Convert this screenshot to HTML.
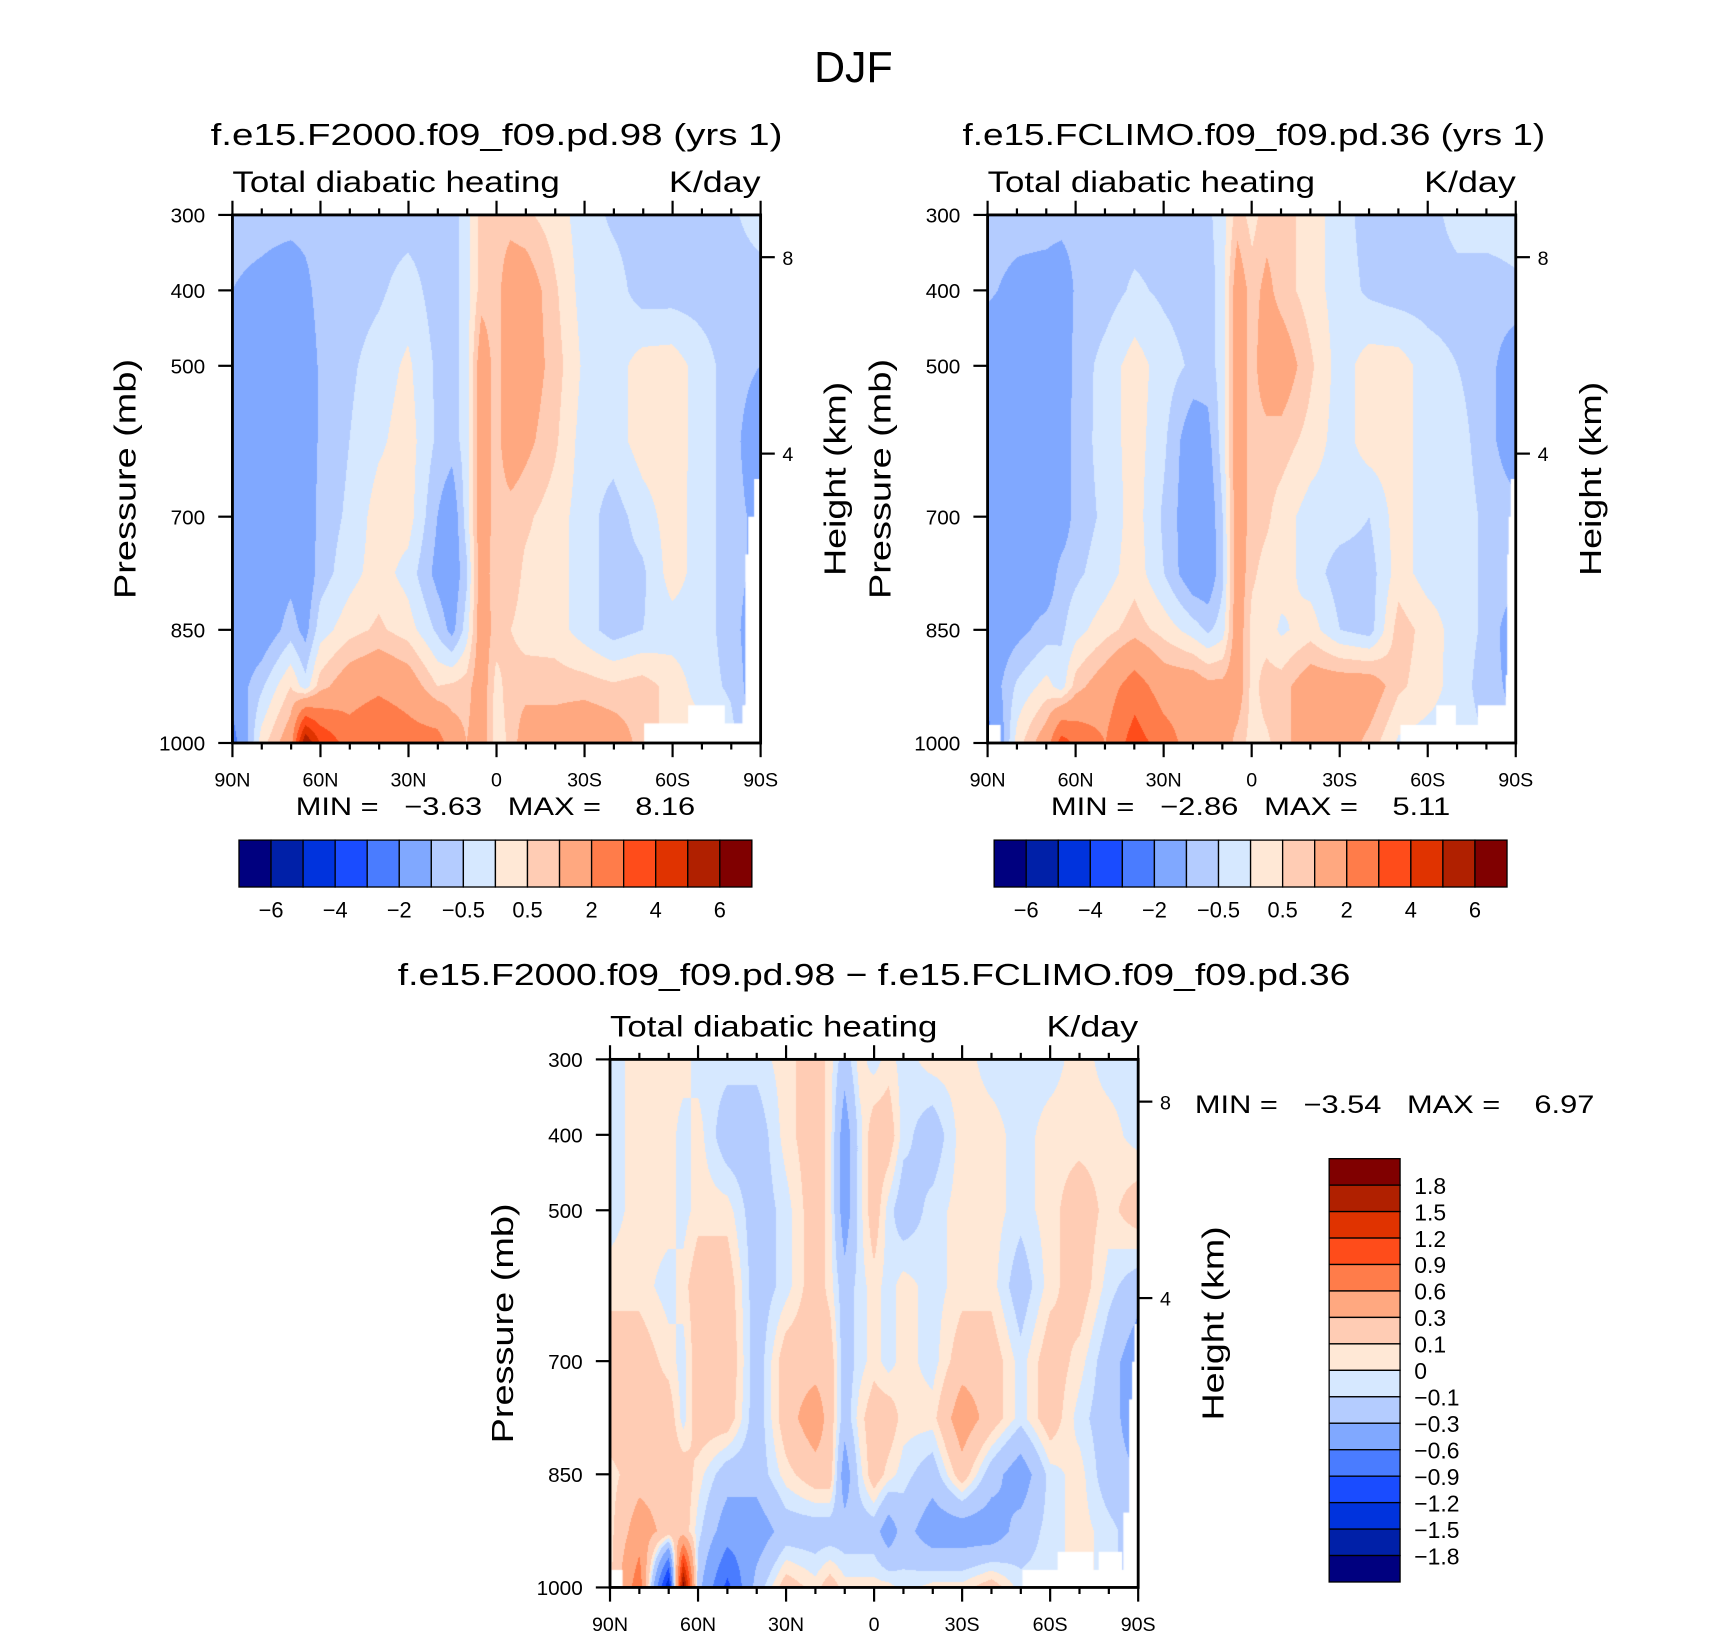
<!DOCTYPE html>
<html><head><meta charset="utf-8"><title>DJF Total diabatic heating</title>
<style>
html,body{margin:0;padding:0;background:#fff;}
#root{position:relative;width:1710px;height:1636px;overflow:hidden;background:#fff;}
#root svg{position:absolute;left:0;top:0;}
canvas{position:absolute;}
text{white-space:pre;}
</style></head>
<body>
<div id="root">
<canvas id="c1"></canvas>
<canvas id="c2"></canvas>
<canvas id="c3"></canvas>
<svg id="svg" width="1710" height="1636" viewBox="0 0 1567 1499.5" preserveAspectRatio="none"
 font-family="'Liberation Sans Narrow','Liberation Sans',sans-serif" fill="#000" xml:space="preserve"></svg>
</div>
<script>
// ---------- data ----------
const lats = [90,80,70,65,60,50,40,30,20,15,10,5,0,-5,-10,-20,-30,-40,-50,-60,-70,-80,-90];
const pres = [300,400,500,600,700,775,850,925,1000];
const field1 = [
[-.75,-.75,-.75,-.75,-.75,-.75,-.75,-.75,-.75,-.7,-.25,.75,.75,.75,.6,.25,-.25,-.6,-.75,-.75,-.75,-.6,-.25],
[-1.0,-1.2,-1.5,-1.2,-.75,-.75,-.6,-.25,-.75,-.75,-.25,.75,.75,1.5,1.5,.6,-.25,-.25,-.75,-.75,-.75,-.75,-.75],
[-1.5,-1.5,-1.5,-1.5,-.9,-.6,-.25,.1,-.6,-.75,-.25,1.5,.75,1.5,1.5,.75,-.1,-.25,.25,.3,-.25,-.75,-1.0],
[-1.5,-1.5,-1.5,-1.5,-.9,-.5,-.1,.25,-.6,-.75,-.25,1.5,.75,1.5,1.2,.6,-.25,-.25,.25,.3,-.25,-.75,-1.5],
[-1.5,-1.5,-1.5,-1.5,-.8,-.4,.25,.25,-1.0,-1.5,-.25,1.5,.75,.75,.6,.25,-.25,-.75,-.25,.25,-.25,-.75,-1.2],
[-1.5,-1.5,-1.2,-1.5,-.75,-.2,.25,-.2,-1.2,-1.5,-.6,1.5,.6,.75,.4,.25,-.25,-.75,-.6,.25,-.25,-.75,-1.2],
[-1.5,-1.5,-.75,-1.2,-.25,.3,.6,.25,-.6,-1.2,-.25,1.5,.75,.5,.3,.25,-.25,-.75,-.5,-.25,-.25,-.75,-1.5],
[-1.5,-.6,.5,-.3,.75,1.5,1.8,1.5,.5,.6,.75,1.5,.3,.75,.75,.75,.75,.6,.75,.3,-.25,-.6,-1.5],
[-2.5,.25,1.5,6.0,4.0,2.5,3.0,2.5,2.5,1.5,1.0,1.5,.25,.6,1.5,1.5,1.8,1.5,.75,.3,.25,-.25,-1.5]
];
const field2 = [
[-.75,-.75,-.75,-.75,-.75,-.75,-.75,-.75,-.75,-.6,-.25,.75,.3,.75,.75,.25,-.25,-.75,-.75,-.75,-.25,-.25,-.25],
[-.9,-1.2,-1.3,-1.5,-.9,-.75,-.4,-.6,-.75,-.75,-.25,1.5,.75,1.2,.75,.25,-.25,-.6,-.75,-.75,-.75,-.75,-.6],
[-1.5,-1.5,-1.5,-1.5,-.8,-.3,.25,-.25,-.6,-.75,-.25,1.5,.75,1.5,1.5,.6,-.25,.25,.25,-.25,-.5,-.75,-1.5],
[-1.5,-1.5,-1.5,-1.5,-.75,-.3,.25,-.4,-1.5,-1.2,-.25,1.5,.75,.75,.75,.3,-.25,.25,.25,-.25,-.3,-.75,-1.5],
[-1.5,-1.5,-1.5,-1.5,-.75,-.4,.25,-.6,-1.5,-1.5,-.5,1.5,.75,.6,.25,-.25,-.25,-.5,.25,-.25,-.25,-.6,-.75],
[-1.5,-1.5,-1.5,-.75,-.6,-.25,.3,-.5,-1.5,-1.5,-.6,1.5,.6,.3,.25,-.25,-.75,-.75,.25,-.25,-.25,-.6,-.75],
[-1.5,-1.2,-.75,-.6,-.2,.3,.75,.3,-.25,-.6,-.25,1.5,.3,.25,-.1,.25,-.5,-.75,.75,.3,-.25,-.6,-1.5],
[-1.5,-.4,.2,-.25,.75,1.5,2.5,1.5,1.5,1.2,1.2,1.5,.3,.75,.75,1.5,1.5,1.5,.6,.25,-.25,-.75,-1.2],
[-2.5,.25,1.5,3.5,2.8,2.0,3.5,2.5,1.5,1.5,1.5,.75,.3,.4,.75,1.5,1.5,.8,-.1,-.25,-.25,-.5,-1.0]
];
const field3 = [
[-.05,.05,.05,.05,-.05,-.05,-.05,.05,.2,.05,-.2,.05,-.05,.05,-.05,.05,.05,-.05,-.05,-.05,.05,-.05,-.05],
[-.05,.05,.05,-.05,.05,-.2,-.2,.05,.2,.05,-.45,-.05,.2,.2,-.05,-.2,.05,.05,-.05,.05,.05,.05,-.05],
[-.05,.05,.05,-.05,.05,.05,-.2,-.05,.2,.05,-.45,-.05,.2,-.05,-.2,-.05,.05,.05,-.05,.05,.2,.05,.2],
[.05,.05,-.05,.05,.2,.2,-.2,-.05,.2,.05,-.2,-.05,.05,-.05,.05,-.05,.05,.05,-.2,.05,.2,-.05,-.2],
[.2,.2,.05,-.05,.2,.25,-.2,.2,.2,.2,-.2,-.05,.05,-.05,.05,-.05,.2,.2,-.05,.2,.05,-.2,-.45],
[.2,.2,.2,-.05,.2,.2,-.2,.2,.45,.2,-.2,.05,.2,.2,.05,.05,.45,.2,-.05,.2,-.05,-.2,-.45],
[.05,.2,.2,.2,.05,-.2,-.2,.05,.2,.2,-.45,-.05,.2,.05,-.05,-.2,.2,-.2,-.45,-.05,.05,-.2,-.3],
[.05,.45,.2,.2,-.05,-.45,-.45,-.2,-.2,-.2,-.2,-.2,-.2,-.45,-.2,-.45,-.45,-.45,-.2,-.05,.05,-.05,-.2],
[.05,.8,-1.5,2.0,-.2,-1.0,-.2,.2,.05,.2,.05,.05,.05,.05,-.05,.05,.05,.2,-.05,-.05,.05,-.05,-.2]
];
const levelsAbs = [-6,-5,-4,-3,-2,-1,-0.5,0,0.5,1,2,3,4,5,6];
const levelsDiff = [-1.8,-1.5,-1.2,-0.9,-0.6,-0.3,-0.1,0,0.1,0.3,0.6,0.9,1.2,1.5,1.8];
const colors = ['#00007F','#0020A8','#0033DD','#1A4CFF','#4A7CFF','#80A8FF','#B4CCFF','#D6E8FF','#FFE8D6','#FFCCB4','#FFA880','#FF7C4A','#FF4C1A','#E03300','#B02000','#800000'];
const latTickLabels = ['90N','60N','30N','0','30S','60S','90S'];
const latTicks = [90,60,30,0,-30,-60,-90];
const presTicks = [300,400,500,700,850,1000];
const heightTicks = [8,4];
const barLabelsAbs = ['\u22126','\u22124','\u22122','\u22120.5','0.5','2','4','6'];
const barLabelIdxAbs = [0,2,4,6,8,10,12,14];
const barLabelsDiff = ['1.8','1.5','1.2','0.9','0.6','0.3','0.1','0','\u22120.1','\u22120.3','\u22120.6','\u22120.9','\u22121.2','\u22121.5','\u22121.8'];
const missing1 = [[-50.5,-90,974],[-65.5,-78,950],[-84,-90,950],[-85,-90,750],[-86,-90,700],[-88,-90,650]];
const missing2 = [[90,85.7,976],[-50.6,-90,976],[-62.8,-69.5,950],[-77,-90,950],[-86.5,-90,910],[-87,-90,750],[-87.5,-90,700],[-88.2,-90,650]];
const missing3 = [[90,85.7,976],[-50.6,-90,976],[-62.6,-74.8,952],[-76.6,-84.6,952],[-85,-90,900],[-87,-90,750],[-88,-90,700],[-88.8,-90,650]];

// ---------- geometry ----------
const S = 1710/1567, PW = 484, PH = 484;
const panels = [
 {x0:213,y0:197,field:field1,levels:levelsAbs,missing:missing1,cv:'c1'},
 {x0:905,y0:197,field:field2,levels:levelsAbs,missing:missing2,cv:'c2'},
 {x0:559,y0:971,field:field3,levels:levelsDiff,missing:missing3,cv:'c3'}
];
function xOf(p,lat){return p.x0+(90-lat)/180*PW;}
function yOf(p,pr){return p.y0+(pr-300)/700*PH;}
function hToP(h){return 1013.25*Math.pow(1-2.25577e-5*h*1000,5.25588);}

function sample(grid,lat,pr){
  let i=0; while(i<lats.length-2 && lat<lats[i+1]) i++;
  let j=0; while(j<pres.length-2 && pr>pres[j+1]) j++;
  const tx=(lats[i]-lat)/(lats[i]-lats[i+1]);
  const ty=(pr-pres[j])/(pres[j+1]-pres[j]);
  const a=grid[j][i],b=grid[j][i+1],c=grid[j+1][i],d=grid[j+1][i+1];
  return (a*(1-tx)+b*tx)*(1-ty)+(c*(1-tx)+d*tx)*ty;
}
function binOf(v,levels){let k=0;while(k<levels.length&&v>=levels[k])k++;return k;}
function hexRgb(h){return [parseInt(h.substr(1,2),16),parseInt(h.substr(3,2),16),parseInt(h.substr(5,2),16)];}
const rgb = colors.map(hexRgb);

panels.forEach(p=>{
  const cv=document.getElementById(p.cv);
  const W=Math.round(PW*S), H=Math.round(PH*S);
  cv.width=W; cv.height=H;
  cv.style.left=(p.x0*S)+'px'; cv.style.top=(p.y0*S)+'px';
  cv.style.width=W+'px'; cv.style.height=H+'px';
  const ctx=cv.getContext('2d');
  const img=ctx.createImageData(W,H);
  for(let y=0;y<H;y++){
    const pr=300+700*(y+.5)/H;
    for(let x=0;x<W;x++){
      const lat=90-180*(x+.5)/W;
      const c=rgb[binOf(sample(p.field,lat,pr),p.levels)];
      const o=(y*W+x)*4;
      img.data[o]=c[0];img.data[o+1]=c[1];img.data[o+2]=c[2];img.data[o+3]=255;
    }
  }
  ctx.putImageData(img,0,0);
  ctx.fillStyle='#fff';
  p.missing.forEach(m=>{
    const xa=(90-m[0])/180*W, xb=(90-m[1])/180*W, ya=(m[2]-300)/700*H;
    ctx.fillRect(Math.min(xa,xb),ya,Math.abs(xb-xa),H-ya+1);
  });
});

// ---------- SVG overlay ----------
const svg=document.getElementById('svg');
const NS='http://www.w3.org/2000/svg';
function el(tag,attrs,parent){const e=document.createElementNS(NS,tag);for(const k in attrs)e.setAttribute(k,attrs[k]);(parent||svg).appendChild(e);return e;}
function txt(str,x,y,size,anchor,len,parent){
  const a={x:x,y:y,'font-size':size,'text-anchor':anchor||'start'};
  if(len){a.textLength=len;a.lengthAdjust='spacingAndGlyphs';}
  const t=el('text',a,parent);t.textContent=str;return t;
}

let t=txt('DJF',782,75,40,'middle',72);



const titles=['f.e15.F2000.f09_f09.pd.98 (yrs 1)','f.e15.FCLIMO.f09_f09.pd.36 (yrs 1)','f.e15.F2000.f09_f09.pd.98 \u2212 f.e15.FCLIMO.f09_f09.pd.36'];
const titleX=[455,1149,801], titleW=[524,534,873], titleY=[133,133,903];
const minmax=['MIN =   \u22123.63   MAX =    8.16','MIN =   \u22122.86   MAX =    5.11','MIN =   \u22123.54   MAX =    6.97'];

panels.forEach((p,pi)=>{
  const g=el('g',{});
  
  
  let e=txt(titles[pi],titleX[pi],titleY[pi],28,'middle',titleW[pi],g);
  
  
  e=txt('Total diabatic heating',p.x0,p.y0-21,27,'start',300,g);
  
  
  e=txt('K/day',p.x0+PW,p.y0-21,27,'end',84,g);
  
  
  e=el('rect',{x:p.x0,y:p.y0,width:PW,height:PH,fill:'none',stroke:'#000','stroke-width':2.6},g);
  
  
  for(let lat=90;lat>=-90;lat-=10){
    const major=(lat%30===0), x=xOf(p,lat), L=major?13:6;
    e=el('line',{x1:x,y1:p.y0,x2:x,y2:p.y0-L,stroke:'#000','stroke-width':2},g);
    
    
    e=el('line',{x1:x,y1:p.y0+PH,x2:x,y2:p.y0+PH+L,stroke:'#000','stroke-width':2},g);
    
    
  }
  latTicks.forEach((lat,k)=>{
    const e2=txt(latTickLabels[k],xOf(p,lat),p.y0+PH+40,18,'middle',null,g);
    
    
  });
  presTicks.forEach(pr=>{
    const y=yOf(p,pr);
    let e2=el('line',{x1:p.x0,y1:y,x2:p.x0-13,y2:y,stroke:'#000','stroke-width':2},g);
    
    
    e2=txt(String(pr),p.x0-25,y+7,19,'end',null,g);
    
    
  });
  heightTicks.forEach(h=>{
    const y=yOf(p,hToP(h));
    let e2=el('line',{x1:p.x0+PW,y1:y,x2:p.x0+PW+13,y2:y,stroke:'#000','stroke-width':2},g);
    
    
    e2=txt(String(h),p.x0+PW+20,y+7,18,'start',null,g);
    
    
  });
  const cy=p.y0+PH/2;
  e=txt('Pressure (mb)',0,0,28,'middle',220,g);
  e.setAttribute('transform','translate('+(p.x0-89)+','+cy+') rotate(-90)');
  
  
  e=txt('Height (km)',0,0,28,'middle',178,g);
  e.setAttribute('transform','translate('+(p.x0+PW+78)+','+cy+') rotate(-90)');
  
  
  const mmx = pi<2 ? p.x0+58 : 1095, mmy = pi<2 ? 747 : 1020;
  e=txt(minmax[pi],mmx,mmy,23,'start',366,g);
  
  
});

[0,1].forEach(pi=>{
  const p=panels[pi], bx=p.x0+6, by=770, bw=470/16, bh=43;
  const g=el('g',{});
  
  
  colors.forEach((c,k)=>{
    const r=el('rect',{x:bx+k*bw,y:by,width:bw,height:bh,fill:c,stroke:'#000','stroke-width':1.2},g);
    
    
  });
  barLabelIdxAbs.forEach((idx,k)=>{
    const e=txt(barLabelsAbs[k],bx+(idx+1)*bw,by+bh+28,20,'middle',null,g);
    
    
  });
});
(function(){
  const bx=1218, by=1062, bw=65, bh=388/16;
  const g=el('g',{});
  
  
  colors.slice().reverse().forEach((c,k)=>{
    const r=el('rect',{x:bx,y:by+k*bh,width:bw,height:bh,fill:c,stroke:'#000','stroke-width':1.2},g);
    
    
  });
  barLabelsDiff.forEach((s,k)=>{
    const e=txt(s,1296,by+(k+1)*bh+8,21,'start',null,g);
    
    
  });
})();
</script>
</body></html>
